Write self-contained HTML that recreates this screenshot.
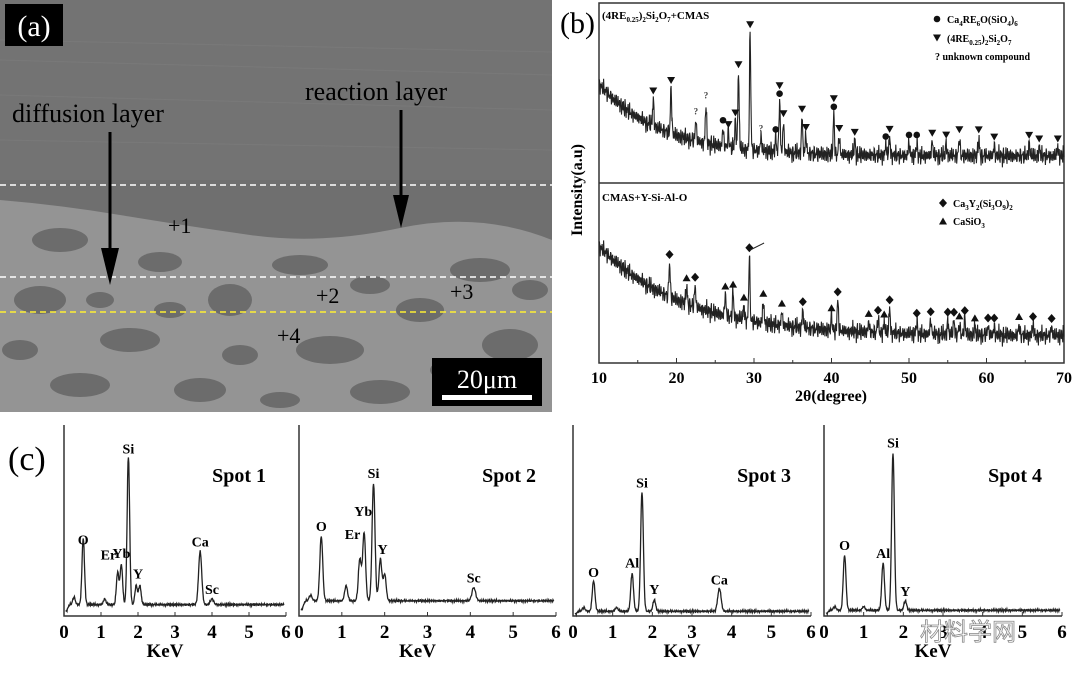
<!DOCTYPE html>
<html><head><meta charset="utf-8"><style>
html,body{margin:0;padding:0;background:#fff;}
svg{display:block;font-family:"Liberation Serif",serif;}
</style></head><body>
<svg id="fig" width="1080" height="673" viewBox="0 0 1080 673" xmlns="http://www.w3.org/2000/svg">
<g>
<rect x="0" y="0" width="552" height="412" fill="#6f6f6f"/>
<rect x="0" y="0" width="552" height="180" fill="#737373"/>
<path d="M0 200 Q60 205 120 215 T250 235 T400 228 T552 240 L552 412 L0 412Z" fill="#949494"/>
<g fill="#6c6c6c">
<ellipse cx="40" cy="300" rx="26" ry="14"/><ellipse cx="130" cy="340" rx="30" ry="12"/><ellipse cx="230" cy="300" rx="22" ry="16"/>
<ellipse cx="330" cy="350" rx="34" ry="14"/><ellipse cx="420" cy="310" rx="24" ry="12"/><ellipse cx="510" cy="345" rx="28" ry="16"/>
<ellipse cx="80" cy="385" rx="30" ry="12"/><ellipse cx="200" cy="390" rx="26" ry="12"/><ellipse cx="300" cy="265" rx="28" ry="10"/>
<ellipse cx="480" cy="270" rx="30" ry="12"/><ellipse cx="160" cy="262" rx="22" ry="10"/><ellipse cx="380" cy="392" rx="30" ry="12"/>
<ellipse cx="60" cy="240" rx="28" ry="12"/><ellipse cx="240" cy="355" rx="18" ry="10"/><ellipse cx="450" cy="370" rx="20" ry="10"/>
<ellipse cx="20" cy="350" rx="18" ry="10"/><ellipse cx="370" cy="285" rx="20" ry="9"/><ellipse cx="100" cy="300" rx="14" ry="8"/>
<ellipse cx="530" cy="290" rx="18" ry="10"/><ellipse cx="280" cy="400" rx="20" ry="8"/><ellipse cx="170" cy="310" rx="16" ry="8"/>
</g>
<g stroke="#7d7d7d" stroke-width="1" opacity="0.6">
<line x1="0" y1="40" x2="552" y2="52"/><line x1="0" y1="95" x2="552" y2="110"/><line x1="0" y1="140" x2="552" y2="150"/><line x1="0" y1="60" x2="552" y2="75"/>
</g>
<line x1="0" y1="185" x2="552" y2="185" stroke="#fff" stroke-width="1.5" stroke-dasharray="6,4"/>
<line x1="0" y1="277" x2="552" y2="277" stroke="#fff" stroke-width="1.5" stroke-dasharray="6,4"/>
<line x1="0" y1="312" x2="552" y2="312" stroke="#ffee33" stroke-width="1.5" stroke-dasharray="6,4"/>
<rect x="5" y="4" width="58" height="42" fill="#000"/>
<text x="34" y="36" fill="#fff" font-size="30" text-anchor="middle">(a)</text>
<text x="12" y="122" font-size="26" fill="#000">diffusion layer</text>
<text x="305" y="100" font-size="26" fill="#000">reaction layer</text>
<line x1="110" y1="132" x2="110" y2="262" stroke="#000" stroke-width="3"/>
<polygon points="101,248 119,248 110,285" fill="#000"/>
<line x1="401" y1="110" x2="401" y2="205" stroke="#000" stroke-width="3"/>
<polygon points="393,195 409,195 401,228" fill="#000"/>
<g font-size="22" fill="#000">
<text x="168" y="233">+1</text>
<text x="316" y="303">+2</text>
<text x="450" y="299">+3</text>
<text x="277" y="343">+4</text>
</g>
<rect x="432" y="358" width="110" height="48" fill="#000"/>
<text x="487" y="388" fill="#fff" font-size="26" text-anchor="middle">20μm</text>
<rect x="442" y="395" width="90" height="5" fill="#fff"/>
</g>
<g id="xrd"></g>
<g id="eds"></g>
<text x="920" y="640" font-size="24" fill="#fff" stroke="#888" stroke-width="0.8" font-family="'Liberation Sans','Noto Sans CJK SC',sans-serif">材料学网</text>
</svg>
<script>
const NS="http://www.w3.org/2000/svg";
// ---------- XRD data ----------
const xrdTicks=[10,20,30,40,50,60,70];
const topPeakPos=[17,19.3,22.5,23.8,26,26.7,27.6,28.0,29.5,30.9,32.8,33.3,33.8,36.2,36.7,40.3,41,43,47,47.5,50,51,53,54.8,56.5,59,61,65.5,66.8,69.2];
const topPeakH=[0.15,0.25,0.12,0.22,0.1,0.08,0.15,0.42,0.65,0.08,0.08,0.28,0.17,0.2,0.1,0.22,0.1,0.08,0.06,0.1,0.07,0.07,0.08,0.07,0.1,0.1,0.06,0.07,0.05,0.05];
const topMarkPos=[17,19.3,22.5,23.8,26,26.7,27.6,28.0,29.5,30.9,32.8,33.3,33.3,33.8,36.2,36.7,40.3,40.3,41,43,47,47.5,50,51,53,54.8,56.5,59,61,65.5,66.8,69.2];
const topMarkType=['v','v','?','?','o','v','v','v','v','?','o','o','v','v','v','v','o','v','v','v','o','v','o','o','v','v','v','v','v','v','v','v'];
const botPeakPos=[19.1,21.3,22.4,26.3,27.3,28.7,29.4,31.2,33.6,36.3,40,40.8,44.8,46,46.8,47.5,51,52.8,55,55.8,56.5,57.2,58.5,60.2,61,64.2,66,68.4];
const botPeakH=[0.19,0.1,0.12,0.12,0.14,0.08,0.36,0.12,0.08,0.1,0.08,0.17,0.06,0.08,0.06,0.14,0.07,0.08,0.08,0.08,0.06,0.09,0.05,0.05,0.05,0.06,0.06,0.05];
const botMarkType=['d','t','d','t','t','t','d','t','t','d','t','d','t','d','t','d','d','d','d','d','t','d','t','d','d','t','d','d'];
// ---------- EDS data ----------
const edsTicks=[0,1,2,3,4,5,6];
const spotNames=['Spot 1','Spot 2','Spot 3','Spot 4'];
const spotBase=[0.06,0.08,0.025,0.03];
const spot1Pos=[0.27,0.52,1.1,1.45,1.55,1.74,1.95,2.05,3.68,4.0];
const spot1H=[0.04,0.35,0.03,0.17,0.21,0.78,0.1,0.1,0.28,0.03];
const spot2Pos=[0.27,0.52,1.1,1.42,1.52,1.74,1.9,2.0,4.08];
const spot2H=[0.03,0.34,0.08,0.22,0.36,0.62,0.22,0.14,0.07];
const spot3Pos=[0.27,0.52,1.1,1.49,1.74,2.05,3.69];
const spot3H=[0.02,0.16,0.02,0.2,0.63,0.06,0.12];
const spot4Pos=[0.27,0.52,1.0,1.49,1.74,2.05];
const spot4H=[0.02,0.29,0.02,0.25,0.83,0.05];
const spotLabels=[
 [['O',0.52,0.35],['Er',1.2,0.27],['Yb',1.55,0.28],['Si',1.74,0.83],['Y',2.0,0.17],['Ca',3.68,0.34],['Sc',4.0,0.09]],
 [['O',0.52,0.42],['Er',1.25,0.38],['Yb',1.5,0.5],['Si',1.74,0.7],['Y',1.95,0.3],['Sc',4.08,0.15]],
 [['O',0.52,0.18],['Al',1.49,0.23],['Si',1.74,0.65],['Y',2.05,0.09],['Ca',3.69,0.14]],
 [['O',0.52,0.32],['Al',1.49,0.28],['Si',1.74,0.86],['Y',2.05,0.08]]
];

function el(tag,attrs,parent,text){const e=document.createElementNS(NS,tag);for(const k in attrs)e.setAttribute(k,attrs[k]);if(text!==undefined)e.textContent=text;parent.appendChild(e);return e;}
function wig(i,a){return a*(Math.sin(i*1.7)*0.4+Math.sin(i*3.1+1)*0.3+Math.sin(i*7.3+2)*0.2+Math.sin(i*13.7)*0.25);}

// ---------- XRD ----------
const xg=document.getElementById('xrd');
const XL=599,XR=1064,XT=3,XB=363,XM=183;
const xS=d=>XL+(d-10)/60*(XR-XL);
const frame=el('rect',{x:XL,y:XT,width:XR-XL,height:XB-XT,fill:'none',stroke:'#333','stroke-width':1.5},xg);


el('line',{x1:XL,y1:XM,x2:XR,y2:XM,stroke:'#333','stroke-width':1.5},xg);
xrdTicks.forEach(t=>{
 el('line',{x1:xS(t),y1:XB,x2:xS(t),y2:XB-5,stroke:'#333'},xg);
 const tl=el('text',{x:xS(t),y:XB+20,'font-size':16,'font-weight':'bold','text-anchor':'middle'},xg,String(t));
 
 
 if(t<70){el('line',{x1:xS(t+5),y1:XB,x2:xS(t+5),y2:XB-3,stroke:'#333'},xg);}
});
function xrdSeries(pos,h,base,y0,name){
 let d='';
 for(let i=0;i<=1200;i++){
  const deg=10+i*0.05;let v=base(deg);
  for(let k=0;k<pos.length;k++){const z=(deg-pos[k])/0.12;v+=h[k]*Math.exp(-z*z);}
  v+=wig(i,0.06);
  d+=(i?'L':'M')+xS(deg).toFixed(1)+' '+(y0-v*180).toFixed(1);
 }
 const p=el('path',{d:d,fill:'none',stroke:'#222','stroke-width':1.1},xg);
 
 
}
const topBase=d=>0.15+0.4*Math.exp(-(d-10)/8);
const botBase=d=>0.15+0.5*Math.exp(-(d-10)/11);
xrdSeries(topPeakPos,topPeakH,topBase,XM,'xrd-top-pattern');
xrdSeries(botPeakPos,botPeakH,botBase,XB,'xrd-bottom-pattern');
function marker(type,x,y,name){
 let m;
 if(type==='v')m=el('polygon',{points:`${x-4},${y-3.5} ${x+4},${y-3.5} ${x},${y+3.5}`,fill:'#111'},xg);
 else if(type==='t')m=el('polygon',{points:`${x-4},${y+3.5} ${x+4},${y+3.5} ${x},${y-3.5}`,fill:'#111'},xg);
 else if(type==='o')m=el('circle',{cx:x,cy:y,r:3.3,fill:'#111'},xg);
 else if(type==='d')m=el('polygon',{points:`${x},${y-4.5} ${x+4},${y} ${x},${y+4.5} ${x-4},${y}`,fill:'#111'},xg);
 else m=el('text',{x:x,y:y+3,'font-size':9,'font-weight':'bold','text-anchor':'middle',fill:'#444'},xg,'?');
 
 
}
const stackTop={};
topMarkPos.forEach((p,i)=>{
 const k=topPeakPos.indexOf(p);const v=topBase(p)+topPeakH[k];
 const n=stackTop[p]||0;stackTop[p]=n+1;
 marker(topMarkType[i],xS(p),XM-v*180-8-n*8,'xrd-top-peak-marker');
});
botPeakPos.forEach((p,i)=>{
 const v=botBase(p)+botPeakH[i];
 marker(botMarkType[i],xS(p),XB-v*180-8,'xrd-bottom-peak-marker');
});
function T(x,y,s,txt,name,extra){const t=el('text',Object.assign({x:x,y:y,'font-size':s,'font-weight':'bold'},extra||{}),xg);t.innerHTML=txt;return t;}
T(560,33,30,'(b)','panel-b-label',{'font-weight':'normal'});
T(602,19,11,'(4RE<tspan font-size="7" dy="3">0.25</tspan><tspan dy="-3">)</tspan><tspan font-size="7" dy="3">2</tspan><tspan dy="-3">Si</tspan><tspan font-size="7" dy="3">2</tspan><tspan dy="-3">O</tspan><tspan font-size="7" dy="3">7</tspan><tspan dy="-3">+CMAS</tspan>','xrd-top-title');
T(602,201,11,'CMAS+Y-Si-Al-O','xrd-bottom-title');
marker('o',937,19,'legend-marker-circle');T(947,23,10,'Ca<tspan font-size="7" dy="3">4</tspan><tspan dy="-3">RE</tspan><tspan font-size="7" dy="3">6</tspan><tspan dy="-3">O(SiO</tspan><tspan font-size="7" dy="3">4</tspan><tspan dy="-3">)</tspan><tspan font-size="7" dy="3">6</tspan>','legend-entry-ca4re6o');
marker('v',937,38,'legend-marker-triangle-down');T(947,42,10,'(4RE<tspan font-size="7" dy="3">0.25</tspan><tspan dy="-3">)</tspan><tspan font-size="7" dy="3">2</tspan><tspan dy="-3">Si</tspan><tspan font-size="7" dy="3">2</tspan><tspan dy="-3">O</tspan><tspan font-size="7" dy="3">7</tspan>','legend-entry-re-disilicate');
T(935,60,10,'? unknown compound','legend-entry-unknown');
marker('d',943,203,'legend-marker-diamond');T(953,207,10,'Ca<tspan font-size="7" dy="3">3</tspan><tspan dy="-3">Y</tspan><tspan font-size="7" dy="3">2</tspan><tspan dy="-3">(Si</tspan><tspan font-size="7" dy="3">3</tspan><tspan dy="-3">O</tspan><tspan font-size="7" dy="3">9</tspan><tspan dy="-3">)</tspan><tspan font-size="7" dy="3">2</tspan>','legend-entry-ca3y2');
marker('t',943,221,'legend-marker-triangle-up');T(953,225,10,'CaSiO<tspan font-size="7" dy="3">3</tspan>','legend-entry-casio3');
T(831,401,16,'2θ(degree)','xrd-x-axis-title',{'text-anchor':'middle'});
T(582,190,16,'Intensity(a.u)','xrd-y-axis-title',{'text-anchor':'middle',transform:'rotate(-90 582 190)'});
el('line',{x1:xS(29.5),y1:250,x2:xS(31.3),y2:243,stroke:'#222'},xg);

// ---------- EDS ----------
const eg=document.getElementById('eds');
const panels=[[64,286],[299,556],[573,811],[824,1062]];
const ET=425,EB=616,EH=190;
const posArr=[spot1Pos,spot2Pos,spot3Pos,spot4Pos],hArr=[spot1H,spot2H,spot3H,spot4H];
const cl=el('text',{x:8,y:470,'font-size':34},eg,'(c)');


panels.forEach((pp,pi)=>{
 const L=pp[0],R=pp[1];
 const sx=e=>L+e/6*(R-L), sy=v=>EB-v*EH;
 const ax=el('path',{d:`M${L} ${ET}V${EB}H${R}`,fill:'none',stroke:'#333','stroke-width':1.5},eg);
 
 
 edsTicks.forEach(t=>{
  el('line',{x1:sx(t),y1:EB,x2:sx(t),y2:EB-4,stroke:'#333'},eg);
  const tl=el('text',{x:sx(t),y:EB+22,'font-size':19,'font-weight':'bold','text-anchor':'middle'},eg,String(t));
  
  
 });
 const kt=el('text',{x:(L+R)/2-10,y:EB+41,'font-size':19,'font-weight':'bold','text-anchor':'middle'},eg,'KeV');
 
 
 const st=el('text',{x:R-20,y:ET+57,'font-size':20,'font-weight':'bold','text-anchor':'end'},eg,spotNames[pi]);
 
 
 let d='';const P=posArr[pi],H=hArr[pi];
 for(let i=0;i<=590;i++){
  const e=0.05+i*0.01;let v=spotBase[pi];
  if(e<0.15)v*=e/0.15;
  for(let k=0;k<P.length;k++){const w=P[k]>3?0.06:0.048;const z=(e-P[k])/w;v+=H[k]*Math.exp(-z*z);}
  v+=wig(i,0.008);
  d+=(i?'L':'M')+sx(e).toFixed(1)+' '+sy(v).toFixed(1);
 }
 const sp=el('path',{d:d,fill:'none',stroke:'#222','stroke-width':1.3},eg);
 
 
 spotLabels[pi].forEach(lb=>{
  const t=el('text',{x:sx(lb[1]),y:sy(lb[2])-5,'font-size':14,'font-weight':'bold','text-anchor':'middle'},eg,lb[0]);
  
  
 });
});
</script>
</body></html>
